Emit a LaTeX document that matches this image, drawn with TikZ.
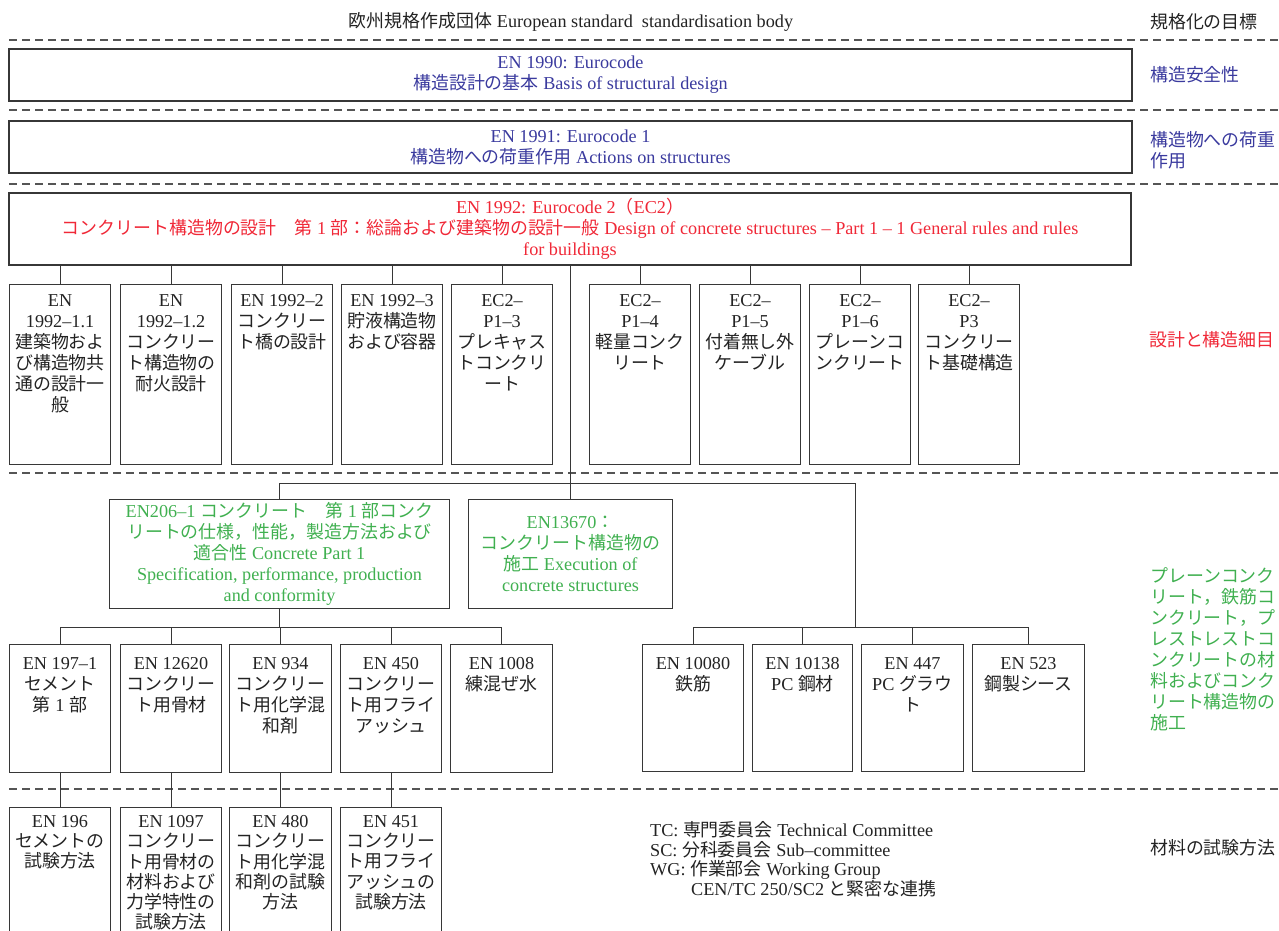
\documentclass[tikz,border=0pt]{standalone}
\usepackage{fontspec}
\setmainfont{Liberation Serif}
\newfontfamily\cjkfont[Scale=0.985]{Noto Sans CJK JP}
\usetikzlibrary{calc}
% automatic switch to the CJK font for Japanese characters
\XeTeXinterchartokenstate=1
\chardef\cjkcls=10
\newcount\cjkcc
\def\setcjkrange#1#2{\cjkcc=#1\relax\loop\XeTeXcharclass\cjkcc=\cjkcls\relax\ifnum\cjkcc<#2\relax\advance\cjkcc by 1\relax\repeat}
\setcjkrange{"3000}{"30FF}
\setcjkrange{"4E00}{"9FFF}
\setcjkrange{"FF00}{"FFEF}
\XeTeXinterchartoks 0 \cjkcls = {\cjkfont}
\XeTeXinterchartoks 4095 \cjkcls = {\cjkfont}
\XeTeXinterchartoks \cjkcls 0 = {\rmfamily}
\XeTeXinterchartoks \cjkcls 4095 = {\rmfamily}

\definecolor{tblue}{RGB}{58,58,158}
\definecolor{tred}{RGB}{240,40,55}
\definecolor{tgreen}{RGB}{64,176,80}
\definecolor{tblack}{RGB}{35,35,35}
\definecolor{lc}{RGB}{55,55,55}
\definecolor{dc}{RGB}{85,85,85}
\newcommand\fs{\fontsize{18.2pt}{21pt}\selectfont}
\newcommand\fsl{\fontsize{18.2pt}{19.5pt}\selectfont}
\newcommand\fst{\fontsize{18.2pt}{20.2pt}\selectfont}
\tikzset{
  boxst/.style={draw=lc, line width=1.05pt, inner sep=0pt, anchor=north west, text=tblack, font=\fs},
  cbox/.style={draw=lc, line width=1.05pt, inner sep=0pt, anchor=center, align=center, font=\fs},
  conn/.style={draw=lc, line width=1pt},
  sepline/.style={draw=dc, line width=1.1pt, dash pattern=on 8pt off 5pt},
  lbl/.style={font=\fs, inner sep=0pt, align=left, anchor=west},
}
% top aligned box: name, x, y, w, h, pad, text
\newcommand\tb[7]{\node[boxst] (#1) at (#2,#3) {\parbox[t][#5pt][t]{#4pt}{\centering\vspace*{#6pt}#7\par}};}

\begin{document}
\begin{tikzpicture}[x=1pt,y=-1pt]
\useasboundingbox (0,0) rectangle (1279,931);

% separators
\foreach \yy in {40,110,184,473,789} \draw[sepline] (9,\yy) -- (1279,\yy);

% header
\node[font=\fs, inner sep=0pt, text=tblack] (title) at (571,22) {欧州規格作成団体 European standard\ \ standardisation body};
\node[lbl, text=tblack] (goal) at (1150,22) {規格化の目標};

% EN 1990 / EN 1991
\node[cbox, text=tblue, minimum width=1123pt, minimum height=52pt] (en1990) at (570.5,75) {EN 1990: Eurocode\\構造設計の基本 Basis of structural design};
\node[lbl, text=tblue] (lsafe) at (1150,75) {構造安全性};
\node[cbox, text=tblue, minimum width=1123pt, minimum height=52pt] (en1991) at (570.5,147) {EN 1991: Eurocode 1\\構造物への荷重作用 Actions on structures};
\node[lbl, text=tblue] (lload) at (1150,150) {構造物への荷重\\作用};

% EC2
\node[cbox, text=tred, minimum width=1122pt, minimum height=72pt] (ec2) at (570,229) {EN 1992: Eurocode 2（EC2）\\コンクリート構造物の設計　第 1 部：総論および建築物の設計一般 Design of concrete structures – Part 1 – 1 General rules and rules\\for buildings};
\node[lbl, text=tred] (ldesign) at (1149,340) {設計と構造細目};

% row 1
\tb{b1}{9}{284}{101}{180}{10}{EN\\1992–1.1\\建築物およ\\び構造物共\\通の設計一\\般}
\tb{b2}{120}{284}{101}{180}{10}{EN\\1992–1.2\\コンクリー\\ト構造物の\\耐火設計}
\tb{b3}{231}{284}{101}{180}{10}{EN 1992–2\\コンクリー\\ト橋の設計}
\tb{b4}{341}{284}{101}{180}{10}{EN 1992–3\\貯液構造物\\および容器}
\tb{b5}{451}{284}{101}{180}{10}{EC2–\\P1–3\\プレキャス\\トコンクリ\\ート}
\tb{b6}{589}{284}{101}{180}{10}{EC2–\\P1–4\\軽量コンク\\リート}
\tb{b7}{699}{284}{101}{180}{10}{EC2–\\P1–5\\付着無し外\\ケーブル}
\tb{b8}{809}{284}{101}{180}{10}{EC2–\\P1–6\\プレーンコ\\ンクリート}
\tb{b9}{918}{284}{101}{180}{10}{EC2–\\P3\\コンクリー\\ト基礎構造}
\foreach \n in {b1,b2,b3,b4,b5,b6,b7,b8,b9} \draw[conn] (\n.north) -- (\n.north |- ec2.south);

% execution level
\node[cbox, anchor=north west, text=tgreen, minimum width=340pt, minimum height=109pt] (en206) at (109,499) {EN206–1 コンクリート　第 1 部コンク\\リートの仕様，性能，製造方法および\\適合性 Concrete Part 1\\Specification, performance, production\\and conformity};
\node[cbox, anchor=north west, text=tgreen, minimum width=204pt, minimum height=109pt] (en13670) at (468,499) {EN13670：\\コンクリート構造物の\\施工 Execution of\\concrete structures};
\node[lbl, text=tgreen] (lexec) at (1150,649) {プレーンコンク\\リート，鉄筋コ\\ンクリート，プ\\レストレストコ\\ンクリートの材\\料およびコンク\\リート構造物の\\施工};

\draw[conn] (en13670.north) -- (en13670.north |- ec2.south);
\coordinate (jr) at (855,627);
\draw[conn] (en206.north) -- ++(0,-16) -| (jr);

% materials
\tb{m1}{9}{644}{101}{128}{13}{EN 197–1\\セメント\\第 1 部}
\tb{m2}{120}{644}{101}{128}{13}{EN 12620\\コンクリー\\ト用骨材}
\tb{m3}{229}{644}{102}{128}{13}{EN 934\\コンクリー\\ト用化学混\\和剤}
\tb{m4}{340}{644}{101}{128}{13}{EN 450\\コンクリー\\ト用フライ\\アッシュ}
\tb{m5}{450}{644}{102}{128}{13}{EN 1008\\練混ぜ水}
\draw[conn] (en206.south) -- (en206.south |- jr);
\draw[conn] (m1.north) -- ++(0,-17) -| (m5.north);
\foreach \n in {m2,m3,m4} \draw[conn] (\n.north) -- ++(0,-17);

% steel
\tb{s1}{642}{644}{101}{127}{13}{EN 10080\\鉄筋}
\tb{s2}{752}{644}{100}{127}{13}{EN 10138\\PC 鋼材}
\tb{s3}{861}{644}{102}{127}{13}{EN 447\\PC グラウ\\ト}
\tb{s4}{972}{644}{112}{127}{13}{EN 523\\鋼製シース}
\draw[conn] (s1.north) -- ++(0,-17) -| (s4.north);
\foreach \n in {s2,s3} \draw[conn] (\n.north) -- ++(0,-17);

% test methods
\tb{t1}{9}{807}{101}{140}{8}{\fst EN 196\\セメントの\\試験方法}
\tb{t2}{120}{807}{101}{140}{8}{\fst EN 1097\\コンクリー\\ト用骨材の\\材料および\\力学特性の\\試験方法}
\tb{t3}{229}{807}{102}{140}{8}{\fst EN 480\\コンクリー\\ト用化学混\\和剤の試験\\方法}
\tb{t4}{340}{807}{101}{140}{8}{\fst EN 451\\コンクリー\\ト用フライ\\アッシュの\\試験方法}
\foreach \a/\b in {m1/t1,m2/t2,m3/t3,m4/t4} \draw[conn] (\a.south) -- (\b.north);

% legend
\node[lbl, font=\fsl, text=tblack] (legend) at (650,859) {TC: 専門委員会 Technical Committee\\SC: 分科委員会 Sub–committee\\WG: 作業部会 Working Group\\\hspace*{41pt}CEN/TC 250/SC2 と緊密な連携};
\node[lbl, text=tblack] (ltest) at (1150,848) {材料の試験方法};
\end{tikzpicture}
\end{document}
